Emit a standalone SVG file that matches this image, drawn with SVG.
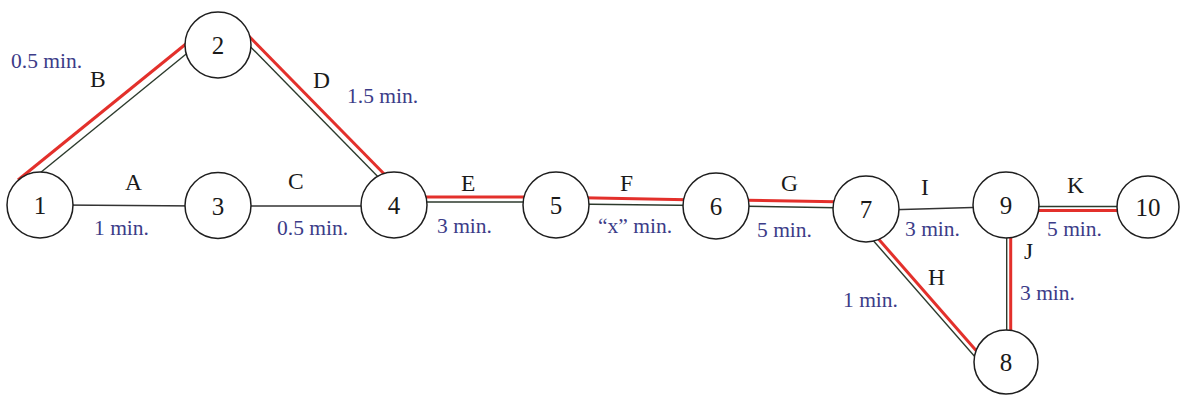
<svg xmlns="http://www.w3.org/2000/svg" width="1180" height="396" viewBox="0 0 1180 396">
<style>
.red{stroke:#e3302b;stroke-width:3;fill:none;stroke-linecap:butt}
.dk{stroke:#2c3a2c;stroke-width:1.4;fill:none}
.ln{stroke:#333;stroke-width:1.5;fill:none}
.node circle{fill:#fff;stroke:#1e1e1e;stroke-width:1.5}
.node text{font-family:"Liberation Serif","Times New Roman",serif;font-size:25px;fill:#1a1a1a;text-anchor:middle}
.lbl{font-family:"Liberation Serif","Times New Roman",serif;font-size:23.5px;fill:#1a1a1a}
.min{font-family:"Liberation Serif","Times New Roman",serif;font-size:21.5px;fill:#3c3c88}
</style>
<rect width="1180" height="396" fill="#fff"/>
<g id="connectors">
  <!-- A -->
  <line class="ln" x1="60" y1="205" x2="200" y2="206"/>
  <!-- C -->
  <line class="ln" x1="240" y1="206" x2="375" y2="206"/>
  <!-- I -->
  <line class="ln" x1="885" y1="210" x2="990" y2="207"/>
  <!-- B -->
  <line class="red" x1="18" y1="180" x2="192" y2="39"/>
  <line class="dk" x1="24" y1="186" x2="196" y2="46"/>
  <!-- D -->
  <line class="red" x1="240" y1="27" x2="393" y2="183"/>
  <line class="dk" x1="236" y1="32" x2="388" y2="187"/>
  <!-- E -->
  <line class="red" x1="410" y1="197" x2="540" y2="197"/>
  <line class="dk" x1="410" y1="202" x2="540" y2="202"/>
  <!-- F -->
  <line class="red" x1="570" y1="197.5" x2="700" y2="200"/>
  <line class="dk" x1="570" y1="204" x2="700" y2="205.5"/>
  <!-- G -->
  <line class="red" x1="730" y1="200" x2="850" y2="202"/>
  <line class="dk" x1="730" y1="206" x2="850" y2="208"/>
  <!-- H -->
  <line class="red" x1="868" y1="227" x2="987" y2="363"/>
  <line class="dk" x1="864" y1="230" x2="983" y2="366"/>
  <!-- J -->
  <line class="dk" x1="1006.7" y1="220" x2="1006.7" y2="350"/>
  <line class="red" x1="1010.7" y1="220" x2="1010.7" y2="350"/>
  <!-- K -->
  <line class="dk" x1="1020" y1="206.5" x2="1130" y2="206.5"/>
  <line class="red" x1="1020" y1="210.5" x2="1130" y2="210.5"/>
</g>
<g id="node1" class="node"><circle cx="40" cy="205" r="33"/><text x="40" y="214">1</text></g>
<g id="node2" class="node"><circle cx="218" cy="45" r="33"/><text x="218" y="54">2</text></g>
<g id="node3" class="node"><circle cx="218" cy="205.5" r="33"/><text x="218" y="214.5">3</text></g>
<g id="node4" class="node"><circle cx="394" cy="205" r="33"/><text x="394" y="214">4</text></g>
<g id="node5" class="node"><circle cx="556" cy="205" r="33"/><text x="556" y="214">5</text></g>
<g id="node6" class="node"><circle cx="716" cy="206" r="33"/><text x="716" y="215">6</text></g>
<g id="node7" class="node"><circle cx="866" cy="209" r="33"/><text x="866" y="218">7</text></g>
<g id="node8" class="node"><circle cx="1006" cy="362" r="32"/><text x="1006" y="371">8</text></g>
<g id="node9" class="node"><circle cx="1006" cy="205" r="33"/><text x="1006" y="214">9</text></g>
<g id="node10" class="node"><circle cx="1148" cy="207" r="31"/><text x="1148" y="216">10</text></g>
<g id="labels">
  <text class="min" x="11" y="68">0.5 min.</text>
  <text class="lbl" x="90" y="87">B</text>
  <text class="lbl" x="313" y="88">D</text>
  <text class="min" x="347" y="103">1.5 min.</text>
  <text class="lbl" x="125" y="190">A</text>
  <text class="min" x="94" y="235">1 min.</text>
  <text class="lbl" x="288" y="189">C</text>
  <text class="min" x="277" y="235">0.5 min.</text>
  <text class="lbl" x="461" y="191">E</text>
  <text class="min" x="437" y="233">3 min.</text>
  <text class="lbl" x="620" y="191">F</text>
  <text class="min" x="598" y="233">“x” min.</text>
  <text class="lbl" x="781" y="191">G</text>
  <text class="min" x="757" y="237">5 min.</text>
  <text class="lbl" x="921" y="195">I</text>
  <text class="min" x="905" y="236">3 min.</text>
  <text class="lbl" x="1067" y="193">K</text>
  <text class="min" x="1047" y="236">5 min.</text>
  <text class="lbl" x="1024" y="259">J</text>
  <text class="lbl" x="928" y="285">H</text>
  <text class="min" x="1020" y="300">3  min.</text>
  <text class="min" x="843" y="307">1 min.</text>
</g>
</svg>
